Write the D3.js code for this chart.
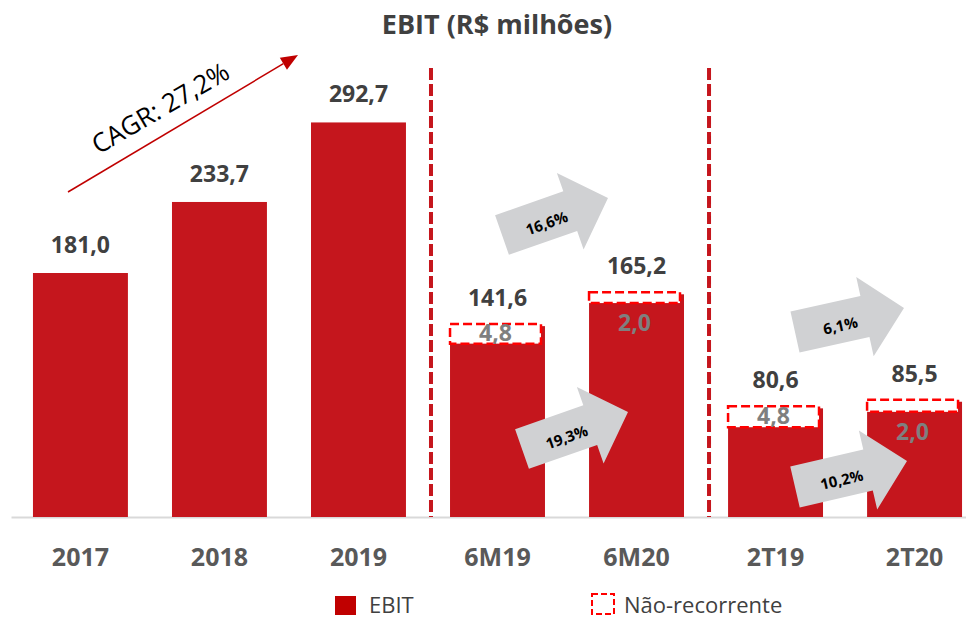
<!DOCTYPE html>
<html>
<head>
<meta charset="utf-8">
<script src="https://cdn.jsdelivr.net/npm/d3@7"></script>
<style>
  html, body { margin: 0; padding: 0; background: #fff; }
  svg { display: block; font-family: "Open Sans", "Noto Sans", sans-serif; }
</style>
</head>
<body>
<svg id="chart" width="966" height="619"></svg>
<script>
// ---- data ----
const categories = ["2017", "2018", "2019", "6M19", "6M20", "2T19", "2T20"];
const ebitValues = [181.0, 233.7, 292.7, 141.6, 165.2, 80.6, 85.5];
const naoRecCategories = ["6M19", "6M20", "2T19", "2T20"];
const naoRecValues = [4.8, 2.0, 4.8, 2.0];
const naoRecBoxDepth = [13, 6.5, 14, 7.5]; // drawn depth of the dashed box, chart units
const growthLabels = ["16,6%", "19,3%", "6,1%", "10,2%"];
const cagrLabel = "CAGR: 27,2%";
const titleText = "EBIT (R$ milhões)";
const legendLabels = ["EBIT", "Não-recorrente"];

// ---- setup ----
const svg = d3.select("#chart");
const baseY = 517;
const fmt = v => d3.format(".1f")(v).replace(".", ",");

const x = d3.scaleBand().domain(categories).range([11, 984]).paddingInner(0.317).paddingOuter(0.158);
const y = d3.scaleLinear().domain([0, 300]).range([baseY, baseY - 300 * 1.348]);

const barColor = "#c5161d";
const labelColor = "#404040";

// title
svg.append("text").attr("x", 497).attr("y", 34).attr("text-anchor", "middle")
  .attr("font-size", 27).attr("font-weight", 700).attr("fill", labelColor).text(titleText);

// axis
const axis = svg.append("g").attr("transform", `translate(0,${baseY})`)
  .call(d3.axisBottom(x).tickSizeInner(0).tickSizeOuter(0).tickPadding(31));
axis.select(".domain").attr("stroke", "#d9d9d9").attr("stroke-width", 2);
axis.selectAll(".tick text").attr("font-size", 25).attr("font-weight", 700)
  .attr("fill", "#595959").attr("font-family", "'Open Sans', sans-serif");

// bars
const data = categories.map((c, i) => ({ c, v: ebitValues[i] }));
svg.append("g").selectAll("rect").data(data).join("rect")
  .attr("x", d => x(d.c)).attr("width", x.bandwidth())
  .attr("y", d => y(d.v)).attr("height", d => y(0) - y(d.v))
  .attr("fill", barColor);

// value labels
svg.append("g").selectAll("text").data(data).join("text")
  .attr("x", d => x(d.c) + x.bandwidth() / 2)
  .attr("y", d => y(d.v) - 20)
  .attr("text-anchor", "middle").attr("font-size", 23).attr("font-weight", 700)
  .attr("fill", labelColor).text(d => fmt(d.v));

// non-recurring dashed boxes
const nr = naoRecCategories.map((c, i) => {
  const total = ebitValues[categories.indexOf(c)];
  return { c, v: naoRecValues[i], total, depth: naoRecBoxDepth[i] };
});
const nrG = svg.append("g");
nr.forEach(d => {
  const top = y(d.total) - 2;
  const bottom = y(d.total - d.depth);
  nrG.append("rect")
    .attr("x", x(d.c)).attr("width", x.bandwidth() - 4)
    .attr("y", top).attr("height", bottom - top)
    .attr("fill", "#fff").attr("stroke", "#ff0000").attr("stroke-width", 2.5)
    .attr("stroke-dasharray", "9,4");
  const inside = (bottom - top) >= 15;
  nrG.append("text")
    .attr("x", x(d.c) + x.bandwidth() / 2 - 2)
    .attr("y", inside ? bottom - 3 : bottom + 28)
    .attr("text-anchor", "middle").attr("font-size", 23).attr("font-weight", 700)
    .attr("fill", "#7f7f7f").text(fmt(d.v));
});

// vertical dashed separators
const seps = [["2019", "6M19"], ["6M20", "2T19"]];
seps.forEach(([a, b]) => {
  const sx = (x(a) + x.bandwidth() + x(b)) / 2 + 3;
  svg.append("line").attr("x1", sx).attr("x2", sx).attr("y1", 68).attr("y2", baseY)
    .attr("stroke", barColor).attr("stroke-width", 4).attr("stroke-dasharray", "12,4");
});

// CAGR arrow
{
  const x0 = 68, y0 = 192, x1 = 298, y1 = 55;
  const ang = Math.atan2(y1 - y0, x1 - x0);
  const hl = 17, hw = 7;
  const bx = x1 - hl * Math.cos(ang), by = y1 - hl * Math.sin(ang);
  svg.append("line").attr("x1", x0).attr("y1", y0).attr("x2", bx).attr("y2", by)
    .attr("stroke", "#c00000").attr("stroke-width", 1.5);
  const px = -Math.sin(ang), py = Math.cos(ang);
  svg.append("polygon")
    .attr("points", [[x1, y1], [bx + px * hw, by + py * hw], [bx - px * hw, by - py * hw]].map(p => p.join(",")).join(" "))
    .attr("fill", "#c00000");
  svg.append("text").attr("transform", `translate(165,116) rotate(${ang * 180 / Math.PI + 0.5})`)
    .attr("text-anchor", "middle").attr("font-size", 26).attr("fill", "#000").text(cagrLabel);
}

// grey growth arrows
const arrowLayout = [
  { x: 502, y: 235, tx: 608, ty: 198 },
  { x: 522, y: 449, tx: 628, ty: 412 },
  { x: 795, y: 332, tx: 904, ty: 308 },
  { x: 795, y: 487, tx: 907, ty: 461 }
];
const arrowG = svg.append("g");
growthLabels.forEach((lab, i) => {
  const a = arrowLayout[i];
  const L = Math.hypot(a.tx - a.x, a.ty - a.y);
  const deg = Math.atan2(a.ty - a.y, a.tx - a.x) * 180 / Math.PI;
  const s = 21, h = 40.5, hl = 40;
  const pts = [[0, -s], [L - hl, -s], [L - hl, -h], [L, 0], [L - hl, h], [L - hl, s], [0, s]];
  const g = arrowG.append("g").attr("transform", `translate(${a.x},${a.y}) rotate(${deg})`);
  g.append("polygon").attr("points", pts.map(p => p.join(",")).join(" ")).attr("fill", "#d0d1d3");
  g.append("text").attr("x", L * 0.41).attr("y", 3).attr("dominant-baseline", "central")
    .attr("text-anchor", "middle").attr("font-size", 15).attr("font-weight", 700)
    .attr("fill", "#000").text(lab);
});

// legend
const lg = svg.append("g");
lg.append("rect").attr("x", 335).attr("y", 596).attr("width", 21).attr("height", 19).attr("fill", "#c00000");
lg.append("text").attr("x", 369).attr("y", 613).attr("font-size", 22).attr("fill", labelColor).text(legendLabels[0]);
lg.append("rect").attr("x", 592).attr("y", 594).attr("width", 22).attr("height", 20)
  .attr("fill", "#fff").attr("stroke", "#ff0000").attr("stroke-width", 2).attr("stroke-dasharray", "6,3");
lg.append("text").attr("x", 624).attr("y", 613).attr("font-size", 22).attr("fill", labelColor).text(legendLabels[1]);
</script>
</body>
</html>
